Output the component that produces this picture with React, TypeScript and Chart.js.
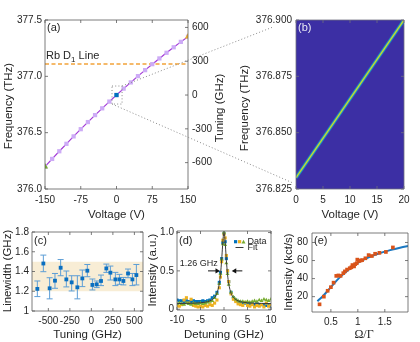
import React, { useEffect, useRef } from 'react';
import { Chart, registerables } from 'chart.js';

Chart.register(...registerables);

const W = 420;
const H = 342;
const FONT = "'Liberation Sans', Arial, Helvetica, sans-serif";
const SERIF = "'Liberation Serif', 'Times New Roman', serif";
const TXT = '#262626';
const BOX = '#5a5a5a';
const TITLE = 11.5;

Chart.defaults.font.family = FONT;
Chart.defaults.color = TXT;

// ---------------- (a) frequency vs voltage ----------------
const voltA = [-150, -135, -120, -105, -90, -75, -60, -45, -30, -15, 0, 15, 30, 45, 60, 75, 90, 105, 120, 135, 150];
const freqA = [376.198, 376.267, 376.335, 376.401, 376.467, 376.531, 376.594, 376.656, 376.716, 376.776, 376.834, 376.891, 376.946, 377.002, 377.055, 377.108, 377.159, 377.209, 377.258, 377.306, 377.352];
const endVolts = [-150, 0, 150];
const endFreqs = [376.198, 376.834, 377.352];
const rbLine = 377.11;
const tuneZero = 376.834;
const zoomBoxV = [-9.4, 11.7];
const zoomBoxF = [376.754, 376.914];
const aXTicks = [-150, -75, 0, 75, 150];
const aYTicks = [376, 376.5, 377, 377.5];
const aTuneTicks = [-600, -300, 0, 300, 600];

// ---------------- (b) zoomed map ----------------
const voltB = [0, 20];
const freqB = [376.83, 376.9];
const bXTicks = [0, 5, 10, 15, 20];
const bYTicks = [376.825, 376.85, 376.875, 376.9];

// ---------------- (c) linewidth vs tuning ----------------
const tuningC = [-628, -558, -485, -423, -357, -291, -229, -163, -105, -47, 12, 62, 112, 174, 221, 279, 326, 372, 426, 477, 523];
const lwC = [1.224, 1.481, 1.23, 1.307, 1.438, 1.32, 1.29, 1.24, 1.33, 1.408, 1.264, 1.27, 1.304, 1.431, 1.388, 1.32, 1.32, 1.304, 1.38, 1.32, 1.364];
const lwHi = [1.304, 1.566, 1.337, 1.38, 1.521, 1.405, 1.357, 1.357, 1.415, 1.471, 1.324, 1.304, 1.364, 1.475, 1.455, 1.391, 1.371, 1.34, 1.425, 1.38, 1.471];
const lwLo = [1.146, 1.398, 1.123, 1.23, 1.357, 1.244, 1.203, 1.123, 1.247, 1.347, 1.213, 1.237, 1.257, 1.391, 1.314, 1.257, 1.27, 1.264, 1.337, 1.257, 1.264];
const bandC = [1.2, 1.5];
const cXTicks = [-500, -250, 0, 250, 500];
const cYTicks = [1, 1.2, 1.4, 1.6, 1.8];

// ---------------- (d) spectra ----------------
const detD = [-10, -9.5, -9, -8.5, -8, -7.5, -7, -6.5, -6, -5.5, -5, -4.5, -4, -3.5, -3, -2.5, -2, -1.5, -1, -0.75, -0.5, -0.25, 0, 0.25, 0.5, 0.75, 1, 1.5, 2, 2.5, 3, 3.5, 4, 4.5, 5, 5.5, 6, 6.5, 7, 7.5, 8, 8.5, 9, 9.5, 10];
const blueD = [0.12, 0.11, 0.11, 0.10, 0.11, 0.10, 0.10, 0.11, 0.10, 0.10, 0.10, 0.11, 0.10, 0.11, 0.12, 0.15, 0.17, 0.22, 0.35, 0.48, 0.66, 0.87, 0.99, 0.88, 0.66, 0.50, 0.36, 0.22, 0.15, 0.12, 0.10, 0.09, 0.08, 0.08, 0.07, 0.07, 0.07, 0.06, 0.07, 0.06, 0.06, 0.06, 0.05, 0.06, 0.04];
const orangeD = [0.05, 0.04, 0.06, 0.12, 0.15, 0.08, 0.13, 0.05, 0.04, 0.03, 0.04, 0.03, 0.05, 0.04, 0.06, 0.05, 0.08, 0.12, 0.28, 0.42, 0.62, 0.90, 0.98, 0.93, 0.70, 0.50, 0.36, 0.20, 0.13, 0.10, 0.07, 0.06, 0.05, 0.09, 0.05, 0.04, 0.06, 0.03, 0.05, 0.04, 0.06, 0.03, 0.08, 0.04, 0.06];
const greenD = [0.07, 0.08, 0.07, 0.06, 0.08, 0.07, 0.06, 0.08, 0.07, 0.07, 0.08, 0.07, 0.08, 0.09, 0.10, 0.11, 0.15, 0.20, 0.33, 0.46, 0.65, 0.85, 1.00, 0.84, 0.60, 0.46, 0.32, 0.22, 0.16, 0.13, 0.11, 0.10, 0.10, 0.09, 0.10, 0.09, 0.10, 0.11, 0.10, 0.12, 0.11, 0.13, 0.12, 0.11, 0.13];
const fitDx = [-10, -8, -6, -4, -3, -2, -1.5, -1, -0.75, -0.5, -0.3, -0.15, 0, 0.15, 0.3, 0.5, 0.75, 1, 1.5, 2, 3, 4, 6, 8, 10];
const fitDy = [0.074, 0.076, 0.080, 0.092, 0.109, 0.154, 0.209, 0.334, 0.455, 0.64, 0.83, 0.95, 1.0, 0.95, 0.83, 0.64, 0.455, 0.334, 0.209, 0.154, 0.109, 0.092, 0.080, 0.076, 0.074];
const fwhmLabel = '1.26 GHz';
const arrowLeft = [-3.4, -0.85];
const arrowRight = [3.9, 1.65];
const arrowY = 0.5;
const dXTicks = [-10, -5, 0, 5, 10];
const dYTicks = [0, 0.5, 1];

// ---------------- (e) saturation ----------------
const rabiE = [0.29, 0.37, 0.44, 0.5, 0.55, 0.6, 0.64, 0.68, 0.73, 0.76, 0.8, 0.85, 0.88, 0.9, 0.93, 0.95, 0.98, 0.99, 1.02, 1.05, 1.08, 1.14, 1.2, 1.26, 1.32, 1.4, 1.52, 1.65];
const countsE = [11.5, 20, 26.5, 30.5, 35.5, 43, 43.5, 43, 46, 48, 50, 51.5, 52.5, 55, 53.5, 56, 57, 61, 59.5, 60, 60.5, 62.5, 66, 65, 67.5, 68.5, 69.5, 74.5];
const fitEx = [0.25, 0.35, 0.5, 0.65, 0.8, 1.0, 1.2, 1.4, 1.6, 1.8, 1.93];
const fitEy = [15, 20.5, 30.5, 40.5, 48.5, 57.5, 63.5, 68, 71.5, 74.5, 76];
const eXTicks = [0.5, 1, 1.5];
const eYTicks = [20, 40, 60, 80];

// ---------------- layout helpers ----------------
type Area = { l: number; t: number; r: number; b: number };
const AREA_A: Area = { l: 45, t: 20, r: 188, b: 189 };
const AREA_B: Area = { l: 296, t: 20, r: 404, b: 189 };
const AREA_C: Area = { l: 32, t: 232, r: 143, b: 311 };
const AREA_D: Area = { l: 177, t: 231, r: 271, b: 310 };
const AREA_E: Area = { l: 312, t: 233, r: 408, b: 312 };

const pts = (xs: number[], ys: number[]) => xs.map((x, i) => ({ x, y: ys[i] }));
const fmtInt = (v: any) => String(Math.round(Number(v)));

function common(area: Area, right: boolean) {
  return {
    responsive: false,
    animation: false as const,
    devicePixelRatio: 1,
    events: [] as any[],
    layout: { padding: { left: 0, top: area.t, right: right ? 0 : W - area.r, bottom: 0 } },
    plugins: { legend: { display: false }, tooltip: { enabled: false } },
  };
}

function xScale(area: Area, min: number, max: number, ticks: number[], fmt: (v: any) => string, pad: number) {
  return {
    type: 'linear' as const,
    position: 'bottom' as const,
    min,
    max,
    grid: { display: false, drawTicks: false },
    border: { display: false },
    afterBuildTicks: (s: any) => {
      s.ticks = ticks.map((v) => ({ value: v }));
    },
    ticks: { font: { size: 10, family: FONT }, color: TXT, padding: pad, maxRotation: 0, autoSkip: false, callback: (v: any) => fmt(v) },
    afterFit: (s: any) => {
      s.height = H - area.b;
    },
  };
}

function yScale(area: Area, min: number, max: number, ticks: number[], fmt: (v: any) => string, pad: number, position: 'left' | 'right') {
  return {
    type: 'linear' as const,
    position,
    min,
    max,
    grid: { display: false, drawTicks: false },
    border: { display: false },
    afterBuildTicks: (s: any) => {
      s.ticks = ticks.map((v) => ({ value: v }));
    },
    ticks: { font: { size: 10, family: FONT }, color: TXT, padding: pad, autoSkip: false, callback: (v: any) => fmt(v) },
    afterFit: (s: any) => {
      s.width = position === 'left' ? area.l : W - area.r;
    },
  };
}

function txt(ctx: CanvasRenderingContext2D, s: string, x: number, y: number, o: { size?: number; align?: CanvasTextAlign; color?: string; rot?: number; family?: string } = {}) {
  ctx.save();
  ctx.font = `${o.size ?? 11}px ${o.family ?? FONT}`;
  ctx.fillStyle = o.color ?? TXT;
  ctx.textAlign = o.align ?? 'center';
  ctx.textBaseline = 'middle';
  ctx.translate(x, y);
  if (o.rot) ctx.rotate(o.rot);
  ctx.fillText(s, 0, 0);
  ctx.restore();
}

function drawBox(chart: any, xs: number[], ys: number[], y2s?: number[], color = BOX) {
  const { ctx, chartArea: a, scales } = chart;
  const L = 3;
  ctx.save();
  ctx.strokeStyle = color;
  ctx.lineWidth = 0.8;
  ctx.beginPath();
  xs.forEach((v) => {
    const p = scales.x.getPixelForValue(v);
    ctx.moveTo(p, a.bottom);
    ctx.lineTo(p, a.bottom - L);
    ctx.moveTo(p, a.top);
    ctx.lineTo(p, a.top + L);
  });
  ys.forEach((v) => {
    const p = scales.y.getPixelForValue(v);
    ctx.moveTo(a.left, p);
    ctx.lineTo(a.left + L, p);
    if (!y2s) {
      ctx.moveTo(a.right, p);
      ctx.lineTo(a.right - L, p);
    }
  });
  if (y2s) {
    y2s.forEach((v) => {
      const p = scales.y2.getPixelForValue(v);
      ctx.moveTo(a.right, p);
      ctx.lineTo(a.right - L, p);
    });
  }
  ctx.rect(a.left, a.top, a.right - a.left, a.bottom - a.top);
  ctx.stroke();
  ctx.restore();
}

const ROT = -Math.PI / 2;

// ---------------- charts ----------------
function chartA(cv: HTMLCanvasElement) {
  const area = AREA_A;
  return new Chart(cv, {
    type: 'line',
    data: {
      datasets: [
        {
          data: pts(endVolts, endFreqs),
          showLine: false,
          pointStyle: ['triangle', 'rect', 'triangle'],
          pointRadius: [3.6, 3.0, 3.6],
          pointBackgroundColor: ['#77AC30', '#0072BD', '#EDB120'],
          pointBorderColor: ['#77AC30', '#0072BD', '#EDB120'],
          pointBorderWidth: 0,
        } as any,
        {
          data: pts(voltA, freqA),
          borderColor: '#A238D6',
          borderWidth: 1.2,
          pointStyle: 'rect',
          pointRadius: 3.0,
          pointBackgroundColor: '#CDABF6',
          pointBorderWidth: 0,
        },
        {
          data: pts([-150, 150], [rbLine, rbLine]),
          borderColor: '#F2A33A',
          borderWidth: 1.6,
          borderDash: [4, 2.5],
          pointRadius: 0,
        },
      ],
    },
    options: {
      ...common(area, true),
      scales: {
        x: xScale(area, -150, 150, aXTicks, fmtInt, 5),
        y: yScale(area, 376, 377.5, aYTicks, (v) => Number(v).toFixed(1), 3, 'left'),
        y2: yScale(area, (376 - tuneZero) * 1000, (377.5 - tuneZero) * 1000, aTuneTicks, fmtInt, 4, 'right'),
      },
    } as any,
    plugins: [
      {
        id: 'decorA',
        afterDraw(chart: any) {
          const { ctx, scales, chartArea: a } = chart;
          drawBox(chart, aXTicks, aYTicks, aTuneTicks);
          // zoom box and connecting dotted lines
          const x0 = scales.x.getPixelForValue(zoomBoxV[0]);
          const x1 = scales.x.getPixelForValue(zoomBoxV[1]);
          const y0 = scales.y.getPixelForValue(zoomBoxF[1]);
          const y1 = scales.y.getPixelForValue(zoomBoxF[0]);
          ctx.save();
          ctx.strokeStyle = '#8a8a8a';
          ctx.lineWidth = 1;
          ctx.setLineDash([1, 2.2]);
          ctx.beginPath();
          ctx.rect(x0, y0, x1 - x0, y1 - y0);
          ctx.moveTo(x1, y0);
          ctx.lineTo(AREA_B.l - 23, AREA_B.t + 7);
          ctx.moveTo(x0, y1);
          ctx.lineTo(AREA_B.l - 3, AREA_B.b - 6);
          ctx.stroke();
          ctx.restore();
          // Rb D1 label
          const ly = scales.y.getPixelForValue(rbLine) - 7.5;
          let lx = a.left + 1;
          ctx.save();
          ctx.fillStyle = TXT;
          ctx.textAlign = 'left';
          ctx.textBaseline = 'middle';
          ctx.font = `11px ${FONT}`;
          ctx.fillText('Rb D', lx, ly);
          lx += ctx.measureText('Rb D').width;
          ctx.font = `8px ${FONT}`;
          ctx.fillText('1', lx, ly + 3);
          lx += ctx.measureText('1').width;
          ctx.font = `11px ${FONT}`;
          ctx.fillText(' Line', lx, ly);
          ctx.restore();
          txt(ctx, '(a)', a.left + 2, a.top + 7.5, { align: 'left' });
          txt(ctx, 'Frequency (THz)', 8.5, 106, { rot: ROT, size: TITLE });
          txt(ctx, 'Voltage (V)', (a.left + a.right) / 2, 215, { size: TITLE });
          txt(ctx, 'Tuning (GHz)', 220, 108, { rot: ROT, size: TITLE });
        },
      },
    ],
  });
}

function chartB(cv: HTMLCanvasElement) {
  const area = AREA_B;
  const line = (color: string, width: number) => ({
    data: pts(voltB, freqB),
    borderColor: color,
    borderWidth: width,
    pointRadius: 0,
    clip: 0,
  });
  return new Chart(cv, {
    type: 'line',
    data: {
      datasets: [line('#f4d62a', 0.6), line('#9fcb3f', 1.3), line('#25b9a6', 2.3), line('rgba(25,130,215,0.7)', 3.6)] as any,
    },
    options: {
      ...common(area, false),
      scales: {
        x: xScale(area, 0, 20, bXTicks, fmtInt, 5),
        y: yScale(area, 376.825, 376.9, bYTicks, (v) => Number(v).toFixed(3), 4, 'left'),
      },
    } as any,
    plugins: [
      {
        id: 'decorB',
        beforeDatasetsDraw(chart: any) {
          const { ctx, chartArea: a } = chart;
          ctx.save();
          ctx.fillStyle = '#3c2fa4';
          ctx.fillRect(a.left, a.top, a.right - a.left, a.bottom - a.top);
          ctx.restore();
        },
        afterDraw(chart: any) {
          const { ctx, chartArea: a } = chart;
          drawBox(chart, bXTicks, bYTicks, undefined, '#6e6e7e');
          txt(ctx, '(b)', a.left + 2, a.top + 7.5, { align: 'left', color: '#e8e8f4' });
          txt(ctx, 'Frequency (THz)', 245, 108, { rot: ROT, size: TITLE });
          txt(ctx, 'Voltage (V)', (a.left + a.right) / 2, 215, { size: TITLE });
        },
      },
    ],
  });
}

function chartC(cv: HTMLCanvasElement) {
  const area = AREA_C;
  const xmin = -690;
  const xmax = 600;
  return new Chart(cv, {
    type: 'line',
    data: {
      datasets: [
        {
          data: pts(tuningC, lwC),
          showLine: false,
          pointStyle: 'rect',
          pointRadius: 2.7,
          pointBackgroundColor: '#0a6fc0',
          pointBorderWidth: 0,
        },
        {
          data: pts([xmin, xmax], [bandC[0], bandC[0]]),
          borderWidth: 0,
          borderColor: 'rgba(0,0,0,0)',
          pointRadius: 0,
        },
        {
          data: pts([xmin, xmax], [bandC[1], bandC[1]]),
          borderWidth: 0,
          borderColor: 'rgba(0,0,0,0)',
          backgroundColor: '#f8edd5',
          fill: '-1',
          pointRadius: 0,
        },
      ] as any,
    },
    options: {
      ...common(area, false),
      scales: {
        x: xScale(area, xmin, xmax, cXTicks, fmtInt, 4),
        y: yScale(area, 1, 1.8, cYTicks, (v) => String(Number(Number(v).toFixed(1))), 3, 'left'),
      },
    } as any,
    plugins: [
      {
        id: 'decorC',
        afterDatasetDraw(chart: any, args: any) {
          if (args.index !== 1) return;
          const { ctx, scales } = chart;
          ctx.save();
          ctx.strokeStyle = '#5d9ed6';
          ctx.lineWidth = 1;
          ctx.beginPath();
          tuningC.forEach((t, i) => {
            const px = scales.x.getPixelForValue(t);
            const pt = scales.y.getPixelForValue(lwHi[i]);
            const pb = scales.y.getPixelForValue(lwLo[i]);
            ctx.moveTo(px, pt);
            ctx.lineTo(px, pb);
            ctx.moveTo(px - 3, pt);
            ctx.lineTo(px + 3, pt);
            ctx.moveTo(px - 3, pb);
            ctx.lineTo(px + 3, pb);
          });
          ctx.stroke();
          ctx.restore();
        },
        afterDraw(chart: any) {
          const { ctx, chartArea: a } = chart;
          drawBox(chart, cXTicks, cYTicks);
          txt(ctx, '(c)', a.left + 2, a.top + 9, { align: 'left' });
          txt(ctx, 'Linewidth (GHz)', 8, 271, { rot: ROT, size: TITLE });
          txt(ctx, 'Tuning (GHz)', (a.left + a.right) / 2, 335, { size: TITLE });
        },
      },
    ],
  });
}

function chartD(cv: HTMLCanvasElement) {
  const area = AREA_D;
  const marker = (ys: number[], style: string, color: string, r: number) => ({
    data: pts(detD, ys),
    showLine: false,
    pointStyle: style,
    pointRadius: r,
    pointBackgroundColor: color,
    pointBorderColor: color,
    pointBorderWidth: 0,
  });
  return new Chart(cv, {
    type: 'line',
    data: {
      datasets: [
        {
          data: pts(fitDx, fitDy),
          borderColor: '#3a3a3a',
          borderWidth: 1,
          pointRadius: 0,
          cubicInterpolationMode: 'monotone',
        },
        marker(greenD, 'triangle', '#77AC30', 2.3),
        marker(orangeD, 'rect', '#EDB120', 2.2),
        marker(blueD, 'rect', '#0072BD', 2.2),
      ] as any,
    },
    options: {
      ...common(area, false),
      scales: {
        x: xScale(area, -10, 10, dXTicks, fmtInt, 4),
        y: yScale(area, -0.01, 1.02, dYTicks, (v) => (Number(v) === 0 ? '0' : Number(v).toFixed(1)), 3, 'left'),
      },
    } as any,
    plugins: [
      {
        id: 'decorD',
        afterDraw(chart: any) {
          const { ctx, chartArea: a, scales } = chart;
          drawBox(chart, dXTicks, dYTicks);
          // FWHM annotation
          const ay = scales.y.getPixelForValue(arrowY);
          const arrow = (xt: number, xh: number) => {
            const p0 = scales.x.getPixelForValue(xt);
            const p1 = scales.x.getPixelForValue(xh);
            const dir = Math.sign(p1 - p0);
            ctx.beginPath();
            ctx.moveTo(p0, ay);
            ctx.lineTo(p1 - dir * 3, ay);
            ctx.stroke();
            ctx.beginPath();
            ctx.moveTo(p1, ay);
            ctx.lineTo(p1 - dir * 4.5, ay - 2.6);
            ctx.lineTo(p1 - dir * 4.5, ay + 2.6);
            ctx.closePath();
            ctx.fill();
          };
          ctx.save();
          ctx.strokeStyle = '#111';
          ctx.fillStyle = '#111';
          ctx.lineWidth = 1;
          arrow(arrowLeft[0], arrowLeft[1]);
          arrow(arrowRight[0], arrowRight[1]);
          ctx.restore();
          txt(ctx, fwhmLabel, scales.x.getPixelForValue(-9.4), scales.y.getPixelForValue(0.6), { align: 'left', size: 9 });
          // legend
          const ry1 = a.top + 10.7;
          const ry2 = a.top + 16.5;
          ctx.save();
          ctx.fillStyle = '#0072BD';
          ctx.fillRect(a.right - 37, ry1 - 1.6, 3.2, 3.2);
          ctx.fillStyle = '#EDB120';
          ctx.fillRect(a.right - 33, ry1 - 1.6, 3.2, 3.2);
          ctx.fillStyle = '#77AC30';
          ctx.beginPath();
          ctx.moveTo(a.right - 27.5, ry1 - 2);
          ctx.lineTo(a.right - 25.5, ry1 + 1.8);
          ctx.lineTo(a.right - 29.5, ry1 + 1.8);
          ctx.closePath();
          ctx.fill();
          ctx.strokeStyle = '#3a3a3a';
          ctx.lineWidth = 1;
          ctx.beginPath();
          ctx.moveTo(a.right - 35.5, ry2);
          ctx.lineTo(a.right - 27.5, ry2);
          ctx.stroke();
          ctx.restore();
          txt(ctx, 'Data', a.right - 23.5, ry1, { align: 'left', size: 9 });
          txt(ctx, 'Fit', a.right - 23.5, ry2 + 0.5, { align: 'left', size: 9 });
          txt(ctx, '(d)', a.left + 2, a.top + 10, { align: 'left' });
          txt(ctx, 'Intensity (a.u.)', 153, 270, { rot: ROT, size: TITLE });
          txt(ctx, 'Detuning (GHz)', (a.left + a.right) / 2, 335, { size: TITLE });
        },
      },
    ],
  });
}

function chartE(cv: HTMLCanvasElement) {
  const area = AREA_E;
  return new Chart(cv, {
    type: 'line',
    data: {
      datasets: [
        {
          data: pts(rabiE, countsE),
          showLine: false,
          pointStyle: 'rect',
          pointRadius: 2.6,
          pointBackgroundColor: '#D95319',
          pointBorderWidth: 0,
        },
        {
          data: pts(fitEx, fitEy),
          borderColor: '#1a78c2',
          borderWidth: 2,
          pointRadius: 0,
          cubicInterpolationMode: 'monotone',
        },
      ] as any,
    },
    options: {
      ...common(area, false),
      scales: {
        x: xScale(area, 0.15, 1.93, eXTicks, (v) => String(Number(v)), 4),
        y: yScale(area, 3, 90.5, eYTicks, fmtInt, 4, 'left'),
      },
    } as any,
    plugins: [
      {
        id: 'decorE',
        afterDraw(chart: any) {
          const { ctx, chartArea: a } = chart;
          drawBox(chart, eXTicks, eYTicks);
          txt(ctx, '(e)', a.left + 2, a.top + 8, { align: 'left' });
          txt(ctx, 'Intensity (kct/s)', 289, 272, { rot: ROT, size: TITLE });
          txt(ctx, 'Ω/Γ', 364, 335, { family: SERIF, size: 12 });
        },
      },
    ],
  });
}

export default function App() {
  const r0 = useRef<HTMLCanvasElement>(null);
  const r1 = useRef<HTMLCanvasElement>(null);
  const r2 = useRef<HTMLCanvasElement>(null);
  const r3 = useRef<HTMLCanvasElement>(null);
  const r4 = useRef<HTMLCanvasElement>(null);
  const refs = [r0, r1, r2, r3, r4];

  useEffect(() => {
    const makers = [chartA, chartB, chartC, chartD, chartE];
    const charts = makers.map((m, i) => m(refs[i].current as HTMLCanvasElement));
    return () => charts.forEach((c) => c.destroy());
  }, []);

  return (
    <div style={{ position: 'fixed', left: 0, top: 0, width: W, height: H, background: '#ffffff', overflow: 'hidden' }}>
      {refs.map((r, i) => (
        <canvas key={i} ref={r} width={W} height={H} style={{ position: 'absolute', left: 0, top: 0, width: W, height: H }} />
      ))}
    </div>
  );
}
